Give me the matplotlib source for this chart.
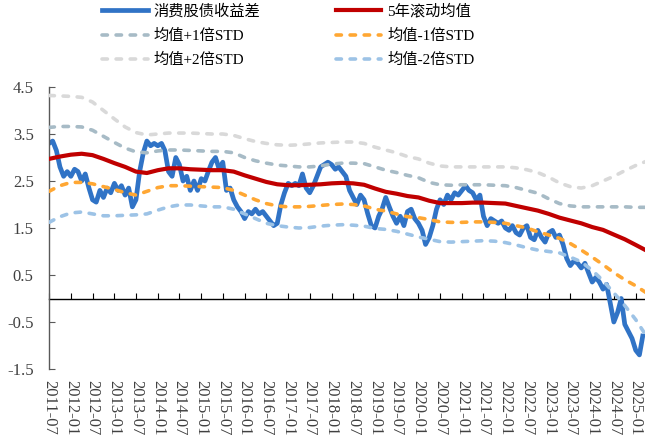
import matplotlib
matplotlib.use("Agg")
import matplotlib.pyplot as plt
import matplotlib.dates as mdates
import pandas as pd

# fonts: serif for latin text, CJK fallback for the chinese labels
plt.rcParams['font.family'] = ['Liberation Serif', 'Noto Sans CJK SC']

# consumer stock-bond yield spread, monthly from 2011-07
spread = [3.3, 3.35, 3.15, 2.8, 2.6, 2.7, 2.6, 2.75, 2.7, 2.5, 2.65, 2.35,
          2.1, 2.05, 2.3, 2.15, 2.35, 2.25, 2.45, 2.3, 2.4, 2.2, 2.35, 1.95,
          2.1, 2.7, 3.1, 3.35, 3.25, 3.3, 3.25, 3.3, 3.15, 2.7, 2.6, 3.0,
          2.85, 2.5, 2.6, 2.3, 2.5, 2.3, 2.55, 2.5, 2.7, 2.9, 3.0, 2.75,
          2.9, 2.3, 2.35, 2.1, 1.95, 1.85, 1.7, 1.85, 1.8, 1.9, 1.8, 1.85,
          1.75, 1.65, 1.55, 1.6, 2.0, 2.25, 2.45, 2.4, 2.45, 2.4, 2.65, 2.35,
          2.25, 2.4, 2.6, 2.8, 2.85, 2.9, 2.85, 2.75, 2.8, 2.7, 2.6, 2.3,
          2.15, 2.0, 2.2, 2.1, 1.8, 1.55, 1.5, 1.75, 1.9, 2.15, 1.95, 1.75,
          1.6, 1.75, 1.55, 1.85, 1.9, 1.7, 1.6, 1.45, 1.15, 1.3, 1.55, 1.9,
          2.1, 2.0, 2.2, 2.1, 2.25, 2.2, 2.3, 2.4, 2.3, 2.25, 2.1, 2.2,
          1.75, 1.55, 1.7, 1.65, 1.6, 1.65, 1.5, 1.45, 1.55, 1.4, 1.35, 1.5,
          1.55, 1.3, 1.25, 1.45, 1.3, 1.2, 1.4, 1.45, 1.3, 1.35, 1.15, 0.85,
          0.7, 0.8, 0.75, 0.65, 0.75, 0.55, 0.35, 0.45, 0.35, 0.2, 0.3, -0.1,
          -0.5, -0.3, 0.0, -0.55, -0.7, -0.85, -1.1, -1.2, -0.8]

# rolling mean and bands, quarterly from 2011-07
ma5 = [2.97, 3.02, 3.06, 3.08, 3.05, 2.97, 2.88, 2.8, 2.7, 2.67, 2.73, 2.77,
       2.77, 2.75, 2.74, 2.73, 2.73, 2.7, 2.62, 2.55, 2.48, 2.43, 2.41, 2.41,
       2.42, 2.43, 2.45, 2.46, 2.45, 2.42, 2.34, 2.27, 2.23, 2.18, 2.15, 2.08,
       2.03, 2.03, 2.03, 2.04, 2.04, 2.03, 2.02, 1.97, 1.92, 1.87, 1.8, 1.72,
       1.66, 1.6, 1.52, 1.46, 1.36, 1.26, 1.14, 1.02]
up1 = [3.64, 3.66, 3.66, 3.65, 3.58, 3.45, 3.32, 3.2, 3.12, 3.1, 3.14, 3.16,
       3.16, 3.15, 3.14, 3.13, 3.13, 3.1, 3.0, 2.93, 2.88, 2.84, 2.82, 2.8,
       2.8, 2.82, 2.86, 2.88, 2.88, 2.87, 2.8, 2.73, 2.68, 2.62, 2.57, 2.47,
       2.42, 2.41, 2.42, 2.42, 2.42, 2.41, 2.4, 2.36, 2.3, 2.24, 2.12, 2.02,
       1.97, 1.95, 1.95, 1.95, 1.95, 1.95, 1.94, 1.94]
up2 = [4.32, 4.31, 4.3, 4.28, 4.18, 4.0, 3.82, 3.65, 3.53, 3.48, 3.5, 3.52,
       3.52, 3.52, 3.51, 3.5, 3.5, 3.47, 3.4, 3.34, 3.3, 3.27, 3.26, 3.27,
       3.29, 3.31, 3.32, 3.33, 3.33, 3.3, 3.22, 3.16, 3.1, 3.02, 2.97, 2.88,
       2.82, 2.8, 2.8, 2.8, 2.8, 2.8, 2.8, 2.78, 2.74, 2.68, 2.58, 2.46,
       2.38, 2.35, 2.4, 2.5, 2.6, 2.72, 2.83, 2.92]
dn1 = [2.28, 2.4, 2.47, 2.47, 2.44, 2.38, 2.32, 2.25, 2.2, 2.28, 2.36, 2.4,
       2.4, 2.39, 2.38, 2.37, 2.36, 2.3, 2.2, 2.1, 2.02, 1.97, 1.95, 1.95,
       1.96, 1.98, 2.0, 2.01, 2.0, 1.97, 1.9, 1.86, 1.8, 1.74, 1.72, 1.68,
       1.63, 1.62, 1.62, 1.63, 1.63, 1.62, 1.6, 1.55, 1.5, 1.42, 1.35, 1.28,
       1.17, 1.03, 0.88, 0.72, 0.55, 0.4, 0.27, 0.12]
dn2 = [1.62, 1.74, 1.82, 1.84, 1.8, 1.76, 1.76, 1.77, 1.78, 1.8, 1.88, 1.95,
       1.99, 1.99, 1.97, 1.95, 1.95, 1.9, 1.8, 1.7, 1.6, 1.55, 1.52, 1.5,
       1.51, 1.54, 1.56, 1.57, 1.56, 1.54, 1.49, 1.47, 1.43, 1.37, 1.31, 1.26,
       1.21, 1.2, 1.21, 1.22, 1.23, 1.22, 1.19, 1.14, 1.08, 1.03, 1.0, 0.97,
       0.88, 0.78, 0.6, 0.38, 0.12, -0.15, -0.45, -0.8]

month_dates = pd.date_range('2011-07-01', periods=len(spread), freq='MS')
band_dates = pd.date_range('2011-07-01', periods=len(ma5), freq='3MS')
tick_dates = pd.date_range('2011-07-01', '2025-01-01', freq='6MS')
tick_labels = [d.strftime('%Y-%m') for d in tick_dates]
y_ticks = [-1.5, -0.5, 0.5, 1.5, 2.5, 3.5, 4.5]

fig = plt.figure(figsize=(6.45, 4.41), dpi=100)
ax = fig.add_axes([49 / 645, 1 - 369 / 441, 1 - 49 / 645, (369 - 87) / 441])

dash = (0, (1.5, 2.4))
l_sp, = ax.plot(month_dates, spread, color='#3073C6', lw=3.4, zorder=2,
                solid_joinstyle='round', label='消费股债收益差')
l_up1, = ax.plot(band_dates, up1, color='#A7BBC6', lw=2.6, ls=dash,
                 dash_capstyle='round', zorder=3, label='均值+1倍STD')
l_up2, = ax.plot(band_dates, up2, color='#D9D9D9', lw=2.6, ls=dash,
                 dash_capstyle='round', zorder=3, label='均值+2倍STD')
l_dn1, = ax.plot(band_dates, dn1, color='#FFA733', lw=2.6, ls=dash,
                 dash_capstyle='round', zorder=3, label='均值-1倍STD')
l_dn2, = ax.plot(band_dates, dn2, color='#9DC3E6', lw=2.6, ls=dash,
                 dash_capstyle='round', zorder=3, label='均值-2倍STD')
l_ma, = ax.plot(band_dates, ma5, color='#C00000', lw=3, zorder=4,
                solid_joinstyle='round', label='5年滚动均值')

ax.set_xlim(pd.Timestamp('2011-07-01'), pd.Timestamp('2025-03-20'))
ax.set_ylim(-1.5, 4.5)
ax.set_yticks(y_ticks, [f'{v:.1f}' for v in y_ticks])
ax.set_xticks(mdates.date2num(tick_dates), tick_labels, rotation=-90)

for side in ['top', 'right', 'bottom']:
    ax.spines[side].set_visible(False)
ax.spines['left'].set_color('#595959')
ax.spines['left'].set_linewidth(1)
ax.tick_params(axis='y', direction='in', length=4, color='#595959',
               labelsize=12, labelcolor='#404040', pad=11)
ax.tick_params(axis='x', length=0, labelsize=12, labelcolor='#404040', pad=8)

# the category axis sits on the zero line
zero_ax = ax.secondary_xaxis(0.25)
zero_ax.set_xticks(mdates.date2num(tick_dates))
zero_ax.tick_params(direction='in', length=4, color='black', labelbottom=False)
zero_ax.spines['bottom'].set_color('black')
zero_ax.spines['bottom'].set_linewidth(1)

handles = [l_sp, l_up1, l_up2, l_ma, l_dn1, l_dn2]
ax.legend(handles, [h.get_label() for h in handles],
          loc='upper left', bbox_to_anchor=(102 / 645, 1 - 4 / 441),
          bbox_transform=fig.transFigure, ncol=2, frameon=False,
          fontsize=11, handlelength=3.0, handletextpad=0.4,
          columnspacing=4.9, labelspacing=0.65, borderpad=0,
          borderaxespad=0)

fig.savefig('out.png', dpi=100)
